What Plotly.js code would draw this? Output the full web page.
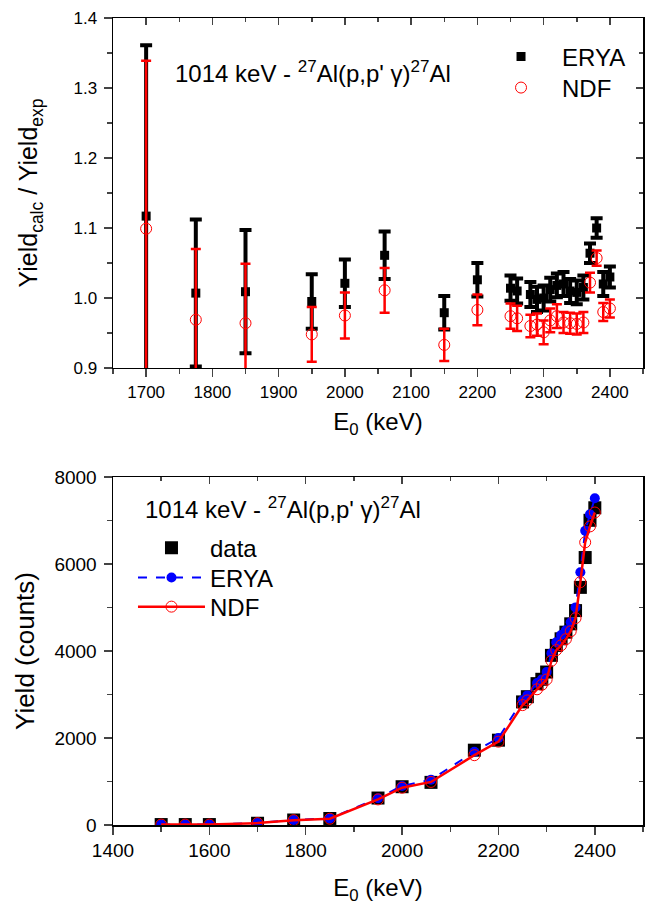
<!DOCTYPE html>
<html>
<head>
<meta charset="utf-8">
<script src="https://cdn.plot.ly/plotly-3.0.1.min.js"></script>
<style>html,body{margin:0;padding:0;background:#fff;}#chart{width:646px;height:907px;}</style>
</head>
<body>
<div id="chart"></div>
<script>
// ---- top panel: ratio calc/exp ----
const ratioE = [1700,1775,1850,1950,2000,2060,2150,2200,2250,2260,2280,2290,2300,2310,2320,2330,2340,2350,2360,2370,2380,2390,2400];
const eryaRatio = [1.117,1.007,1.009,0.995,1.021,1.061,0.979,1.026,1.014,1.010,1.005,0.998,1.000,1.012,1.018,1.020,1.010,1.008,1.015,1.064,1.100,1.020,1.030];
const eryaErr   = [0.244,0.105,0.088,0.039,0.034,0.034,0.024,0.024,0.018,0.018,0.018,0.018,0.018,0.017,0.017,0.017,0.017,0.017,0.017,0.014,0.014,0.017,0.015];
const ndfRatio  = [1.099,0.969,0.964,0.948,0.975,1.011,0.933,0.983,0.974,0.971,0.960,0.962,0.951,0.968,0.974,0.965,0.964,0.963,0.965,1.022,1.057,0.980,0.985];
const ndfErr    = [0.240,0.101,0.085,0.039,0.033,0.032,0.023,0.022,0.018,0.018,0.016,0.016,0.017,0.017,0.017,0.015,0.015,0.015,0.015,0.014,0.011,0.013,0.013];

// ---- bottom panel: yields ----
const yieldE   = [1500,1550,1600,1700,1775,1850,1950,2000,2060,2150,2200,2250,2260,2280,2290,2300,2310,2320,2330,2340,2350,2360,2370,2380,2390,2400];
const yieldData= [10,10,10,40,115,150,620,880,980,1720,1950,2830,2950,3250,3350,3517,3900,4128,4281,4433,4625,4929,5463,6149,7005,7293];
const yieldErya= [10,10,10,45,116,150,617,898,1040,1684,2000,2870,2980,3266,3343,3517,3947,4202,4367,4477,4662,5003,5812,6764,7145,7512];
const yieldNdf = [10,10,10,44,111,145,588,857,990,1605,1916,2756,2864,3120,3223,3345,3775,4021,4131,4273,4454,4756,5583,6499,6865,7184];

const SUP = s => "<sup><span style='font-size:17px'>" + s + "</span></sup>";
const reactionText = "1014 keV - " + SUP("27") + "Al(p,p' \u03b3)" + SUP("27") + "Al";
const FONT = "Arial, 'Liberation Sans', sans-serif";

const traces = [
  {x: ratioE, y: eryaRatio, type:'scatter', mode:'markers', name:'ERYA', xaxis:'x', yaxis:'y', legend:'legend',
   marker:{symbol:'square', size:9, color:'#000'},
   error_y:{type:'data', array:eryaErr, visible:true, color:'#000', thickness:4, width:6}},
  {x: ratioE, y: ndfRatio, type:'scatter', mode:'markers', name:'NDF', xaxis:'x', yaxis:'y', legend:'legend2',
   marker:{symbol:'circle-open', size:11, color:'#ff0000', line:{width:1}},
   error_y:{type:'data', array:ndfErr, visible:true, color:'#ff0000', thickness:2.5, width:5}},
  {x: yieldE, y: yieldData, type:'scatter', mode:'markers', name:'data', xaxis:'x2', yaxis:'y2', legend:'legend3',
   marker:{symbol:'square', size:13, color:'#000'}},
  {x: yieldE, y: yieldErya, type:'scatter', mode:'lines+markers', name:'ERYA', xaxis:'x2', yaxis:'y2', legend:'legend4',
   line:{color:'#0000ff', width:2, dash:'dash'}, marker:{symbol:'circle', size:10, color:'#0000ff'}},
  {x: yieldE, y: yieldNdf, type:'scatter', mode:'lines+markers', name:'NDF', xaxis:'x2', yaxis:'y2', legend:'legend5',
   line:{color:'#ff0000', width:2.5}, marker:{symbol:'circle-open', size:11, color:'#ff0000', line:{width:1}}},
  // empty traces to realise mirror axes with inward ticks
  {x:[], y:[], xaxis:'x3', yaxis:'y3', showlegend:false, hoverinfo:'skip'},
  {x:[], y:[], xaxis:'x4', yaxis:'y4', showlegend:false, hoverinfo:'skip'}
];

const topDom = [0.5663, 1];
const botDom = [0, 0.4312];

function mainX(range, dtick, minorD, anchor, titleTxt, standoff, tfs){
  return {range:range, domain:[0,1], anchor:anchor, dtick:dtick, tick0:0, ticks:'outside', ticklen:8, tickwidth:1.5,
    minor:{dtick:minorD, ticks:'outside', ticklen:5, tickwidth:1.5, tick0:0},
    showline:true, linecolor:'#000', linewidth:1.5, showgrid:false, zeroline:false,
    tickfont:{family:FONT, size:tfs, color:'#000'}, title:{text:titleTxt, font:{family:FONT, size:24, color:'#000'}, standoff:standoff}};
}
function mainY(range, dtick, minorD, dom, anchor, titleTxt, fmt, standoff, tfs, ttfs){
  return {range:range, domain:dom, anchor:anchor, dtick:dtick, tick0:0, ticks:'outside', ticklen:8, tickwidth:1.5,
    minor:{dtick:minorD, ticks:'outside', ticklen:5, tickwidth:1.5, tick0:0}, ticklabelstandoff:3,
    showline:true, linecolor:'#000', linewidth:1.5, showgrid:false, zeroline:false, tickformat:fmt,
    tickfont:{family:FONT, size:tfs, color:'#000'}, title:{text:titleTxt, font:{family:FONT, size:ttfs, color:'#000'}, standoff:standoff}};
}
function mirX(range, dtick, minorD, anchor, ov){
  return {range:range, overlaying:ov, side:'top', anchor:anchor, dtick:dtick, tick0:0, ticks:'inside', ticklen:7, tickwidth:1.5,
    minor:{dtick:minorD, ticks:'inside', ticklen:4, tickwidth:1.5, tick0:0},
    showline:true, linecolor:'#000', linewidth:1.5, showgrid:false, zeroline:false, showticklabels:false};
}
function mirY(range, dtick, minorD, dom, anchor, ov){
  return {range:range, domain:dom, overlaying:ov, side:'right', anchor:anchor, dtick:dtick, tick0:0, ticks:'inside', ticklen:7, tickwidth:1.5,
    minor:{dtick:minorD, ticks:'inside', ticklen:4, tickwidth:1.5, tick0:0},
    showline:true, linecolor:'#000', linewidth:1.5, showgrid:false, zeroline:false, showticklabels:false};
}
function leg(x, y, w){
  return {x:x, y:y, xanchor:'left', yanchor:'middle', bgcolor:'rgba(0,0,0,0)', borderwidth:0,
    font:{family:FONT, size:24, color:'#000'}, itemwidth:w};
}

const layout = {
  width:646, height:907,
  margin:{l:113, r:3, t:18, b:82},
  paper_bgcolor:'#fff', plot_bgcolor:'rgba(0,0,0,0)',
  font:{family:FONT, color:'#000'},
  showlegend:true,
  xaxis: mainX([1650,2450], 100, 50, 'y', 'E<sub>0</sub> (keV)', 12, 17),
  yaxis: mainY([0.9,1.4], 0.1, 0.05, topDom, 'x', 'Yield<sub>calc</sub> / Yield<sub>exp</sub>', '.1f', 28, 17, 25),
  xaxis2: mainX([1400,2500], 200, 100, 'y2', 'E<sub>0</sub> (keV)', 19, 19),
  yaxis2: mainY([0,8000], 2000, 1000, botDom, 'x2', 'Yield (counts)', 'd', 12, 19, 26),
  xaxis3: mirX([1650,2450], 100, 50, 'y3', 'x'),
  yaxis3: mirY([0.9,1.4], 0.1, 0.05, topDom, 'x3', 'y'),
  xaxis4: mirX([1400,2500], 200, 100, 'y4', 'x2'),
  yaxis4: mirY([0,8000], 2000, 1000, botDom, 'x4', 'y2'),
  legend:  leg(0.6925, 0.9517, 72),
  legend2: leg(0.6925, 0.9133, 72),
  legend3: leg(0.0377, 0.3432, 67),
  legend4: leg(0.0377, 0.3061, 67),
  legend5: leg(0.0377, 0.2701, 67),
  annotations:[
    {xref:'paper', yref:'paper', x:0.113, y:0.933, xanchor:'left', yanchor:'middle', showarrow:false, text:reactionText, font:{family:FONT, size:24, color:'#000'}},
    {xref:'paper', yref:'paper', x:0.0566, y:0.393, xanchor:'left', yanchor:'middle', showarrow:false, text:reactionText, font:{family:FONT, size:24, color:'#000'}}
  ]
};

Plotly.newPlot('chart', traces, layout, {displayModeBar:false, staticPlot:true});
</script>
</body>
</html>
